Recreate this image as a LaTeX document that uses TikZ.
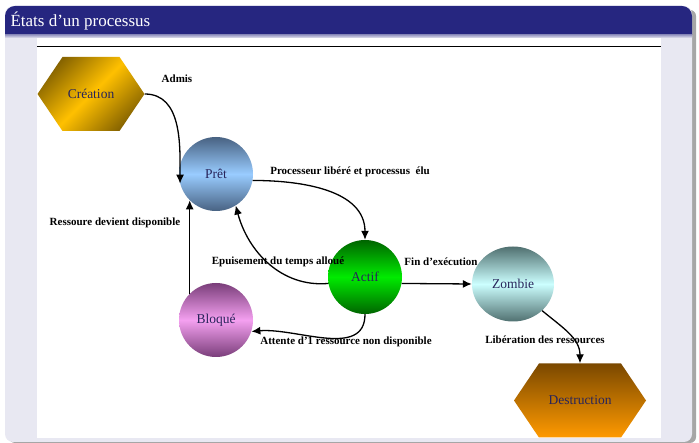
\documentclass[tikz,border=0pt]{standalone}
\usepackage{fontspec}
\setmainfont{Liberation Serif}
\usetikzlibrary{shapes.geometric,shapes.symbols,arrows.meta}

\definecolor{titrebleu}{RGB}{38,38,128}
\definecolor{fondcadre}{RGB}{232,232,242}
\definecolor{encre}{RGB}{40,36,90}
\definecolor{orsombre}{RGB}{135,100,0}
\definecolor{orclair}{RGB}{255,192,0}
\definecolor{bleusombre}{RGB}{72,98,130}
\definecolor{bleuclair}{RGB}{153,204,255}
\definecolor{vertsombre}{RGB}{0,100,0}
\definecolor{vertclair}{RGB}{0,235,0}
\definecolor{rosesombre}{RGB}{122,62,122}
\definecolor{roseclair}{RGB}{244,160,240}
\definecolor{cyansombre}{RGB}{80,112,112}
\definecolor{cyanclair}{RGB}{204,255,255}
\definecolor{brunsombre}{RGB}{122,72,0}
\definecolor{orangeclair}{RGB}{255,154,0}

\begin{document}
\begin{tikzpicture}[x=1pt,y=1pt,
  etat/.style={circle,minimum size=74pt,inner sep=0pt,text=encre,font=\fontsize{13.5}{15}\selectfont},
  hexa/.style={signal,signal to=west and east,signal pointer angle=112,minimum height=74pt,inner sep=0pt,text=encre,font=\fontsize{13.5}{15}\selectfont},
  lbl/.style={font=\bfseries\fontsize{11}{12}\selectfont,inner sep=0pt},
  fleche/.style={-{Latex[length=9pt,width=8pt]},line width=1.3pt}]
\useasboundingbox (0,0) rectangle (699,-443);
% cadre du transparent
\fill[black!35,rounded corners=6pt] (9,-10) rectangle (696,-443);
\fill[fondcadre,rounded corners=8pt] (5,-6) rectangle (692,-442);
\fill[titrebleu] (5,-35) [rounded corners=10pt]-- (5,-6) -- (692,-6) [sharp corners]-- (692,-35) -- cycle;
\shade[top color=titrebleu!45,bottom color=fondcadre] (5,-35) rectangle (692,-38);
\node[anchor=west,text=white,font=\fontsize{17}{19}\selectfont] (titre) at (7,-21) {États d'un processus};
\fill[white] (37,-38) rectangle (661,-438);
\draw[line width=1pt] (37,-47) -- (661,-47);

% etats
\node[hexa,minimum width=107pt,top color=orsombre,bottom color=orsombre,middle color=orclair,shading angle=45] (creation) at (91,-94) {Création};
\node[etat,top color=bleusombre,bottom color=bleusombre,middle color=bleuclair] (pret) at (216,-174) {Prêt};
\node[etat,top color=vertsombre,bottom color=vertsombre,middle color=vertclair] (actif) at (365,-277) {Actif};
\node[etat,top color=rosesombre,bottom color=rosesombre,middle color=roseclair] (bloque) at (216,-320) {Bloqué};
\node[etat,ellipse,minimum width=82pt,minimum height=75pt,top color=cyansombre,bottom color=cyansombre,middle color=cyanclair] (zombie) at (513,-284) {Zombie};
\node[hexa,minimum width=132pt,top color=brunsombre,bottom color=orangeclair] (destruction) at (580,-400.5) {Destruction};

% transitions
\draw[fleche] (creation.east) to[out=0,in=90] (pret.195);
\node[lbl] (admis) at (177,-79) {Admis};
\draw[fleche] (pret.-10) to[out=0,in=90] (actif.north);
\node[lbl] (elu) at (350,-172) {Processeur libéré et processus \ élu};
\draw[fleche] (actif.190) to[out=185,in=-75] (pret.-58);
\node[lbl] (epuise) at (278,-262) {Epuisement du temps alloué};
\draw[fleche] (actif.south) to[out=-90,in=5] (bloque.-18);
\node[lbl] (attente) at (346,-342) {Attente d'1 ressource non disponible};
\draw[fleche] (bloque.135) -- (pret.225);
\node[lbl] (dispo) at (115,-223) {Ressoure devient disponible};
\draw[fleche] (actif.-10) -- (zombie.west);
\node[lbl] (fin) at (441,-262) {Fin d'exécution};
\draw[fleche] (zombie.south east) to[out=-40,in=90] (destruction.north);
\node[lbl] (liberation) at (545,-340) {Libération des ressources};
\end{tikzpicture}
\end{document}
